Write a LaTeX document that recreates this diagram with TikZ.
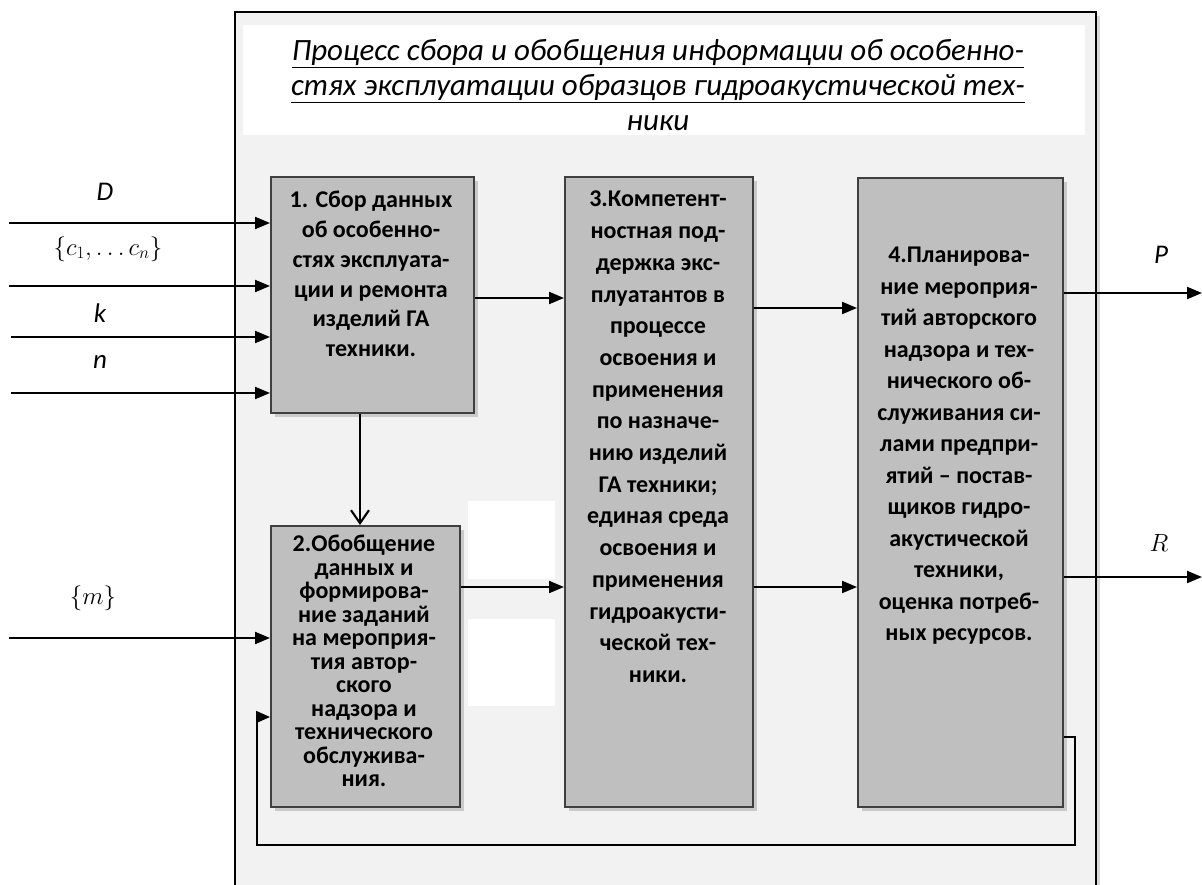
\documentclass[tikz,border=0pt]{standalone}
\usepackage{fontspec}
\setmainfont{Carlito}
\usetikzlibrary{arrows.meta,shadows}
\definecolor{framefill}{HTML}{F2F2F2}
\definecolor{boxfill}{HTML}{BFBFBF}
\definecolor{boxline}{HTML}{3F3F3F}
\begin{document}
\begin{tikzpicture}[x=1pt,y=-1pt,
  blk/.style={draw=boxline,line width=1.6pt,fill=boxfill,inner sep=0pt,anchor=north west,
    drop shadow={shadow xshift=4pt,shadow yshift=-4pt,opacity=0.35}},
  btxt/.style={align=center,inner sep=0pt,anchor=north,text=black},
  arr/.style={line width=2.1pt,-{Triangle[length=15pt,width=12pt]}},
  fb/.style={line width=1.7pt},
  lab/.style={inner sep=0pt,font=\fontsize{27}{30}\selectfont\itshape},
  mlab/.style={inner sep=0pt,font=\fontsize{26}{30}\selectfont}]
\useasboundingbox (0,0) rectangle (1202,885);
\clip (0,0) rectangle (1202,885);
\fill[white] (0,0) rectangle (1202,885);
% outer frame
\draw[line width=2.6pt,fill=framefill,drop shadow={shadow xshift=4pt,shadow yshift=-4pt,opacity=0.3}] (235,12) rectangle (1096,900);
% title area
\fill[white] (243,25) rectangle (1085,135);
\node[inner sep=0pt,align=center,font=\fontsize{31}{35}\selectfont\itshape] (title) at (658,85)
  {\underline{Процесс сбора и обобщения информации об особенно-}\\
   \underline{стях эксплуатации образцов гидроакустической тех-}\\
   ники};
% white patches
\fill[white] (468,501) rectangle (555,579);
\fill[white] (468,619) rectangle (555,706);
% boxes
\node[blk,minimum width=203pt,minimum height=236pt] (b1) at (270,176) {};
\node[blk,minimum width=189pt,minimum height=281pt] (b2) at (270,525) {};
\node[blk,minimum width=188pt,minimum height=630pt] (b3) at (564,176) {};
\node[blk,minimum width=205pt,minimum height=629pt] (b4) at (857,177) {};
\node[btxt,font={\bfseries\fontsize{24}{29.8}\selectfont}] (t1) at (371,191)
  {1. Сбор данных\\об особенно-\\стях эксплуата-\\ции и ремонта\\изделий ГА\\техники.};
\node[btxt,font={\bfseries\fontsize{24}{23.5}\selectfont}] (t2) at (364,535)
  {2.Обобщение\\данных и\\формирова-\\ние заданий\\на мероприя-\\тия автор-\\ского\\надзора и\\технического\\обслужива-\\ния.};
\node[btxt,font={\bfseries\fontsize{24}{31.7}\selectfont}] (t3) at (658,191)
  {3.Компетент-\\ностная под-\\держка экс-\\плуатантов в\\процессе\\освоения и\\применения\\по назначе-\\нию изделий\\ГА техники;\\единая среда\\освоения и\\применения\\гидроакусти-\\ческой тех-\\ники.};
\node[btxt,font={\bfseries\fontsize{24}{31.5}\selectfont}] (t4) at (959,247)
  {4.Планирова-\\ние мероприя-\\тий авторского\\надзора и тех-\\нического об-\\служивания си-\\лами предпри-\\ятий – постав-\\щиков гидро-\\акустической\\техники,\\оценка потреб-\\ных ресурсов.};
% input coordinates
\coordinate (inD) at (9,223);
\coordinate (inC) at (9,286);
\coordinate (inK) at (11,337);
\coordinate (inN) at (11,393);
\coordinate (inM) at (9,638);
\draw[arr] (inD) -- (b1.west |- inD);
\draw[arr] (inC) -- (b1.west |- inC);
\draw[arr] (inK) -- (b1.west |- inK);
\draw[arr] (inN) -- (b1.west |- inN);
\draw[arr] (inM) -- (b2.west |- inM);
% labels
\node[lab] (lD) at (105,192) {D};
\node[mlab] (lC) at (108,249) {$\{c_1,\ldots c_n\}$};
\node[lab] (lK) at (100,313) {k};
\node[lab] (lN) at (100,362) {n};
\node[mlab] (lM) at (93,598) {$\{m\}$};
\node[lab] (lP) at (1161,255) {P};
\node[mlab] (lR) at (1159,543) {$R$};
% internal arrows
\coordinate (y13) at (0,298);
\coordinate (y23) at (0,587);
\coordinate (y34a) at (0,308);
\coordinate (y34b) at (0,587);
\coordinate (x12) at (360,0);
\draw[arr] (b1.east |- y13) -- (b3.west |- y13);
\draw[arr] (b2.east |- y23) -- (b3.west |- y23);
\draw[arr] (b3.east |- y34a) -- (b4.west |- y34a);
\draw[arr] (b3.east |- y34b) -- (b4.west |- y34b);
\draw[line width=2.1pt,-{Straight Barb[length=13pt,width=18pt]}] (b1.south -| x12) -- (b2.north -| x12);
% outputs
\coordinate (outP) at (1202,293);
\coordinate (outR) at (1202,577);
\draw[arr] (b4.east |- outP) -- (outP);
\draw[arr] (b4.east |- outR) -- (outR);
% feedback
\coordinate (fbA) at (0,737);
\coordinate (fbB) at (1075,845);
\coordinate (fbC) at (257,717);
\draw[fb,-{Triangle[length=14pt,width=12pt]}] (b4.east |- fbA) -| (fbB) -| (fbC) -- (b2.west |- fbC);
\end{tikzpicture}
\end{document}
